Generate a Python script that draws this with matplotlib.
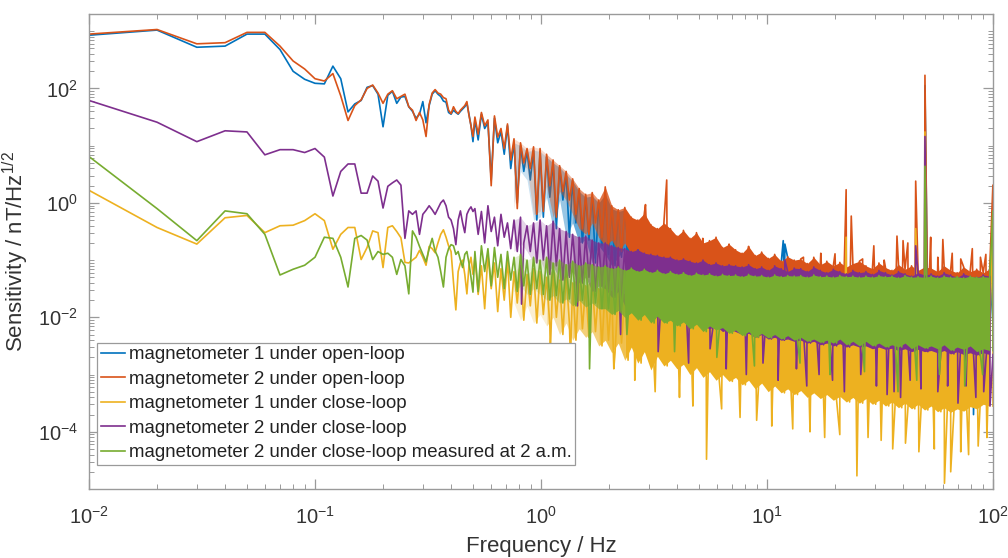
import numpy as np
import matplotlib
matplotlib.use("Agg")
import matplotlib.pyplot as plt
from matplotlib.ticker import LogLocator, FixedLocator, NullFormatter

plt.rcParams['font.family'] = ['Liberation Sans', 'DejaVu Sans']
plt.rcParams['mathtext.fontset'] = 'custom'
plt.rcParams['mathtext.rm'] = 'Liberation Sans'
plt.rcParams['mathtext.it'] = 'Liberation Sans:italic'
plt.rcParams['mathtext.bf'] = 'Liberation Sans:bold'

# ---- data (all values are log10 of sensitivity in nT/Hz^1/2) ----
labels = ["magnetometer 1 under open-loop",
          "magnetometer 2 under open-loop",
          "magnetometer 1 under close-loop",
          "magnetometer 2 under close-loop",
          "magnetometer 2 under close-loop measured at 2 a.m."]
colors = ["#0072BD", "#D95319", "#EDB120", "#7E2F8E", "#77AC30"]

# low-frequency part: 0.01 ... 0.50 Hz, 0.01 Hz resolution
f_low = np.round(np.arange(1, 51) * 0.01, 2)

blue_low = [2.93, 3.02, 2.72, 2.74, 2.95, 2.95, 2.68, 2.30, 2.16, 2.09,
            2.08, 2.39, 2.17, 1.59, 1.73, 1.79, 2.02, 2.05, 1.90, 1.33,
            1.88, 1.95, 1.74, 1.85, 1.86, 1.68, 1.60, 1.48, 1.55, 1.77,
            1.40, 1.70, 1.90, 1.96, 1.90, 1.86, 1.78, 1.76, 1.58, 1.55,
            1.62, 1.58, 1.55, 1.60, 1.64, 1.68, 1.74, 1.55, 1.35, 1.07]
orange_low = [2.95, 3.03, 2.78, 2.80, 2.98, 2.98, 2.74, 2.48, 2.34, 2.17,
              2.13, 2.26, 1.87, 1.44, 1.70, 1.80, 2.00, 2.06, 1.92, 1.74,
              1.90, 1.96, 1.82, 1.86, 1.90, 1.68, 1.62, 1.44, 1.58, 1.45,
              1.16, 1.72, 1.92, 1.98, 1.92, 1.90, 1.84, 1.82, 1.62, 1.56,
              1.68, 1.60, 1.56, 1.62, 1.66, 1.70, 1.77, 1.53, 1.35, 1.16]
yellow_low = [0.22, -0.43, -0.72, -0.26, -0.22, -0.52, -0.40, -0.39, -0.31, -0.19,
              -0.31, -0.81, -0.55, -0.43, -0.43, -0.99, -0.78, -0.49, -0.52, -1.13,
              -0.43, -0.40, -0.50, -0.61, -1.04, -1.05, -1.00, -0.95, -0.83, -0.95,
              -1.09, -0.76, -0.80, -0.87, -0.70, -0.55, -0.47, -0.60, -0.75, -0.85,
              -1.39, -1.87, -1.20, -1.05, -1.00, -1.25, -1.59, -1.10, -0.95, -1.25]
purple_low = [1.79, 1.41, 1.07, 1.26, 1.24, 0.84, 0.93, 0.93, 0.88, 0.95,
              0.80, 0.12, 0.55, 0.68, 0.68, 0.17, 0.17, 0.47, 0.38, -0.09,
              0.29, 0.35, 0.40, 0.31, -0.62, -0.14, -0.20, -0.14, -0.55, -0.20,
              -0.13, -0.05, -0.12, -0.20, -0.10, 0.00, 0.05, -0.05, -0.25, -0.30,
              -0.45, -0.73, -0.30, -0.14, -0.35, -0.52, -0.20, -0.12, -0.07, -0.15]
green_low = [0.81, -0.10, -0.66, -0.14, -0.19, -0.55, -1.26, -1.16, -1.09, -0.95,
             -0.60, -0.62, -0.95, -1.47, -0.62, -0.57, -0.65, -0.99, -0.85, -0.90,
             -0.88, -0.95, -1.25, -0.99, -1.10, -1.59, -0.49, -0.60, -0.76, -0.90,
             -1.03, -0.80, -0.62, -0.84, -0.95, -1.20, -1.47, -0.95, -0.80, -0.73,
             -0.75, -0.90, -0.85, -1.00, -1.13, -0.90, -0.85, -1.05, -1.30, -1.56]

# noisy part 0.51 ... 100 Hz: upper / lower excursion at each of 80 nodes
f_band = np.geomspace(0.51, 100, 160)
# the trace gets denser with frequency: (from Hz, to Hz, opacity of the band)
band_density = [(0.75, 1.0, 0.2), (1.0, 1.3, 0.4), (1.3, 1.7, 0.6),
                (1.7, 2.3, 0.8), (2.3, 101.0, 1.0)]

blue_hi = [1.45, 1.55, 1.40, 1.48, 1.25, 1.35, 1.05, 1.00, 0.90, 0.92,
           0.90, 0.80, 0.70, 0.62, 0.50, 0.38, 0.20, 0.10, 0.12, 0.00,
           0.15, -0.10, -0.15, -0.12, -0.28, -0.32, -0.22, -0.40, -0.48, -0.38,
           -0.50, -0.60, -0.52, -0.65, -0.55, -0.72, -0.68, -0.65, -0.80, -0.75,
           -0.85, -0.90, -0.80, -0.95, -0.88, -1.00, -0.92, -1.05, -0.96, -1.02,
           -1.00, -1.08, -0.98, -1.10, -1.05, -1.12, -1.06, -1.14, -1.08, -1.05,
           -1.12, -1.16, -1.08, -1.15, -1.20, -1.10, -1.18, -1.12, -1.20, -1.14,
           -1.16, -1.22, -1.12, -1.20, -1.24, -1.14, -1.22, -1.18, -1.24, -1.17]
blue_lo = [1.10, 1.30, 0.40, 1.05, 0.85, 0.60, 0.00, 0.55, 0.40, -0.30,
           -0.25, 0.10, -0.45, 0.05, -0.60, -0.35, -0.70, -0.65, -1.05, -0.75,
           -0.90, -1.10, -0.95, -0.80, -1.15, -0.95, -1.05, -1.25, -1.15, -1.10,
           -1.20, -1.25, -1.35, -1.30, -1.40, -1.35, -1.45, -1.50, -1.45, -1.55,
           -1.55, -1.60, -1.65, -1.60, -1.70, -1.65, -1.75, -1.70, -1.75, -1.80,
           -1.80, -1.85, -1.80, -1.90, -1.85, -1.90, -1.95, -1.90, -1.95, -1.95,
           -1.95, -2.00, -1.95, -2.05, -2.00, -2.05, -2.00, -2.05, -2.10, -2.05,
           -2.05, -2.10, -2.05, -2.15, -2.10, -2.05, -2.15, -2.10, -2.10, -2.10]
orange_hi = [1.50, 1.58, 1.45, 1.52, 1.30, 1.38, 1.12, 1.05, 0.95, 0.98,
             0.95, 0.85, 0.75, 0.65, 0.55, 0.42, 0.25, 0.15, 0.18, 0.05,
             0.28, -0.05, -0.12, -0.08, -0.25, -0.30, -0.18, -0.38, -0.45, -0.35,
             -0.45, -0.58, -0.48, -0.62, -0.52, -0.70, -0.66, -0.60, -0.78, -0.72,
             -0.82, -0.88, -0.76, -0.92, -0.86, -0.97, -0.90, -1.02, -0.94, -1.00,
             -0.98, -1.06, -0.95, -1.08, -1.02, -1.10, -1.04, -1.12, -1.06, -1.02,
             -1.10, -1.15, -1.05, -1.13, -1.18, -1.08, -1.16, -1.10, -1.18, -1.12,
             -1.14, -1.20, -1.10, -1.18, -1.22, -1.12, -1.20, -1.16, -1.22, -1.15]
orange_lo = [1.20, 1.35, 0.30, 1.15, 0.95, 0.75, -0.10, 0.70, 0.60, -0.20,
             -0.15, 0.30, -0.25, 0.20, 0.05, -0.20, -0.45, -0.55, -0.35, -0.60,
             -0.75, -0.65, -0.85, -0.70, -0.90, -0.80, -1.00, -0.90, -1.10, -1.05,
             -1.15, -1.20, -1.30, -1.25, -1.35, -1.30, -1.40, -1.45, -1.40, -1.50,
             -1.50, -1.55, -1.60, -1.55, -1.65, -1.60, -1.70, -1.65, -1.70, -1.75,
             -1.75, -1.80, -1.75, -1.85, -1.80, -1.85, -1.90, -1.85, -1.90, -1.90,
             -1.90, -1.95, -1.90, -2.00, -1.95, -2.00, -1.95, -2.00, -2.05, -2.00,
             -2.00, -2.05, -2.00, -2.10, -2.05, -2.00, -2.10, -2.05, -2.10, -2.05]
yellow_hi = [-0.95, -1.10, -0.90, -1.05, -1.15, -1.00, -1.20, -1.10, -1.25, -1.15,
             -1.20, -1.30, -1.15, -1.35, -1.25, -1.40, -1.30, -1.45, -1.35, -1.50,
             -1.45, -1.55, -1.50, -1.60, -1.52, -1.62, -1.55, -1.65, -1.58, -1.68,
             -1.60, -1.70, -1.62, -1.72, -1.65, -1.75, -1.68, -1.78, -1.70, -1.80,
             -1.72, -1.82, -1.75, -1.85, -1.78, -1.88, -1.80, -1.90, -1.82, -1.92,
             -1.85, -1.95, -1.88, -1.98, -1.90, -2.00, -1.92, -2.02, -1.95, -2.05,
             -1.98, -2.08, -2.00, -2.10, -2.02, -2.12, -2.05, -2.15, -2.08, -2.18,
             -2.10, -2.20, -2.12, -2.22, -2.15, -2.25, -2.18, -2.28, -2.20, -2.30]
yellow_lo = [-1.60, -1.85, -1.50, -1.90, -1.70, -2.00, -1.75, -2.05, -1.80, -2.10,
             -1.95, -2.15, -2.00, -2.30, -2.10, -2.40, -2.20, -2.35, -2.25, -2.50,
             -2.40, -2.62, -2.45, -2.75, -2.52, -2.80, -2.60, -2.92, -2.68, -2.85,
             -2.75, -2.90, -2.82, -3.00, -2.88, -3.05, -2.95, -3.10, -3.00, -3.12,
             -3.05, -3.18, -3.10, -3.25, -3.15, -3.30, -3.20, -3.32, -3.25, -3.35,
             -3.28, -3.40, -3.32, -3.42, -3.35, -3.45, -3.38, -3.48, -3.40, -3.50,
             -3.42, -3.52, -3.45, -3.55, -3.48, -3.58, -3.50, -3.60, -3.52, -3.62,
             -3.55, -3.65, -3.58, -3.66, -3.60, -3.64, -3.56, -3.60, -3.52, -3.55]
purple_hi = [-0.10, -0.15, -0.05, -0.25, -0.20, -0.35, -0.30, -0.25, -0.40, -0.35,
             -0.30, -0.40, -0.32, -0.45, -0.50, -0.55, -0.60, -0.58, -0.65, -0.70,
             -0.70, -0.75, -0.78, -0.80, -0.85, -0.82, -0.88, -0.90, -0.92, -0.95,
             -0.95, -1.00, -0.98, -1.02, -1.05, -1.00, -1.08, -1.05, -1.10, -1.08,
             -1.10, -1.12, -1.08, -1.15, -1.12, -1.18, -1.10, -1.15, -1.20, -1.14,
             -1.15, -1.20, -1.12, -1.18, -1.22, -1.16, -1.20, -1.24, -1.18, -1.22,
             -1.20, -1.25, -1.18, -1.22, -1.26, -1.20, -1.24, -1.28, -1.22, -1.26,
             -1.24, -1.28, -1.22, -1.26, -1.30, -1.24, -1.28, -1.30, -1.26, -1.28]
purple_lo = [-0.55, -0.70, -0.50, -0.75, -0.60, -0.80, -0.85, -0.70, -0.85, -1.05,
             -1.00, -1.25, -1.10, -1.35, -1.30, -1.20, -1.40, -1.30, -1.55, -1.45,
             -1.50, -1.65, -1.55, -1.80, -1.70, -1.75, -1.75, -1.90, -1.85, -2.00,
             -2.00, -2.10, -2.05, -2.15, -2.10, -2.15, -2.20, -2.15, -2.25, -2.20,
             -2.25, -2.30, -2.28, -2.35, -2.30, -2.38, -2.35, -2.40, -2.38, -2.42,
             -2.40, -2.45, -2.42, -2.48, -2.45, -2.50, -2.46, -2.52, -2.48, -2.52,
             -2.50, -2.55, -2.52, -2.56, -2.54, -2.58, -2.55, -2.60, -2.56, -2.60,
             -2.58, -2.62, -2.58, -2.64, -2.60, -2.65, -2.62, -2.66, -2.62, -2.65]
green_hi = [-0.85, -0.75, -0.80, -0.78, -0.90, -0.85, -0.95, -0.90, -1.00, -0.95,
            -1.00, -0.95, -1.05, -1.00, -1.08, -1.02, -1.10, -1.05, -1.08, -1.12,
            -1.10, -1.15, -1.12, -1.18, -1.14, -1.20, -1.16, -1.22, -1.18, -1.24,
            -1.20, -1.25, -1.22, -1.27, -1.23, -1.26, -1.24, -1.28, -1.25, -1.27,
            -1.26, -1.29, -1.25, -1.28, -1.27, -1.30, -1.26, -1.29, -1.27, -1.28,
            -1.27, -1.30, -1.26, -1.29, -1.28, -1.30, -1.27, -1.29, -1.28, -1.30,
            -1.28, -1.30, -1.27, -1.29, -1.28, -1.31, -1.27, -1.30, -1.29, -1.30,
            -1.28, -1.31, -1.28, -1.30, -1.29, -1.31, -1.28, -1.30, -1.29, -1.30]
green_lo = [-1.55, -1.20, -1.45, -1.30, -1.50, -1.35, -1.55, -1.45, -1.60, -1.50,
            -1.60, -1.70, -1.62, -1.75, -1.68, -1.80, -1.70, -1.82, -1.75, -1.85,
            -1.85, -1.95, -1.88, -2.00, -1.92, -2.05, -1.95, -2.10, -1.98, -2.10,
            -2.05, -2.15, -2.08, -2.20, -2.12, -2.25, -2.15, -2.22, -2.18, -2.28,
            -2.22, -2.32, -2.25, -2.35, -2.28, -2.36, -2.30, -2.38, -2.32, -2.40,
            -2.35, -2.42, -2.38, -2.44, -2.40, -2.45, -2.38, -2.48, -2.42, -2.50,
            -2.42, -2.50, -2.45, -2.52, -2.48, -2.52, -2.45, -2.55, -2.48, -2.54,
            -2.50, -2.55, -2.48, -2.58, -2.52, -2.56, -2.50, -2.60, -2.55, -2.58]

# narrow excursions outside the band: (frequency in Hz, log10 value)
blue_spikes = [(3.1, -1.45), (4.3, -1.50), (11.8, -0.66), (12.0, -0.72),
               (50.0, 2.05), (64.0, -3.55), (82.0, -3.70)]
orange_spikes = [(2.9, -0.03), (3.6, 0.40), (5.2, -0.62), (6.8, -0.78),
                 (8.3, -0.85), (14.5, -0.95), (17.3, -0.88), (20.0, -0.89),
                 (22.4, 0.23), (23.6, -0.23), (26.5, -0.98), (29.7, -0.75),
                 (33.0, -1.00), (37.6, -0.58), (40.0, -0.66), (42.0, -0.70),
                 (45.5, 0.38), (50.0, 2.23), (53.0, -0.60), (57.0, -0.95),
                 (60.0, -0.64), (66.0, -0.88), (72.0, -0.98), (81.0, -0.80),
                 (88.0, -0.95), (93.0, -0.90), (99.9, 0.31)]
yellow_spikes = [(1.1, -2.60), (1.35, -2.75), (2.1, -2.90), (2.6, -3.10),
                 (3.2, -3.30), (4.1, -3.40), (4.7, -3.55), (5.4, -4.48),
                 (6.3, -3.60), (7.6, -3.75), (9.0, -3.80), (10.5, -3.90),
                 (13.0, -3.95), (15.5, -4.00), (18.0, -4.10), (21.0, -4.05),
                 (22.4, -0.60), (25.0, -4.77), (28.0, -4.10), (32.0, -4.15),
                 (36.0, -4.30), (41.0, -4.20), (45.5, -0.45), (47.0, -4.35),
                 (50.0, 1.24), (55.0, -4.30), (61.0, -4.90), (65.0, -4.70),
                 (72.0, -4.35), (78.0, -4.40), (86.0, -4.25), (94.0, -4.10),
                 (99.9, -0.20)]
purple_spikes = [(0.82, -1.77), (1.45, -1.80), (2.25, -2.30), (3.3, -2.60),
                 (4.5, -2.80), (5.6, -2.55), (6.6, -2.90), (8.1, -3.00),
                 (9.6, -2.80), (11.2, -3.10), (12.0, -1.00), (13.5, -2.90),
                 (15.0, -3.20), (17.0, -3.00), (19.5, -3.10), (22.0, -3.30),
                 (26.0, -3.00), (30.5, -3.20), (34.0, -3.35), (36.5, -3.30),
                 (39.0, -3.40), (43.0, -3.10), (45.5, -0.75), (48.0, -3.25),
                 (50.0, 1.16), (57.0, -3.30), (63.0, -3.20), (70.0, -3.50),
                 (76.0, -3.20), (84.0, -3.40), (91.0, -3.30), (97.0, -3.55)]
green_spikes = [(1.64, -2.90), (2.4, -2.30), (3.9, -2.60), (6.0, -2.70),
                (8.8, -2.85), (14.0, -2.80), (19.0, -3.00), (27.0, -2.95),
                (38.0, -3.30), (46.0, -3.10), (50.0, 0.64), (58.0, -3.00),
                (75.0, -3.20), (90.0, -3.00), (99.9, -0.14)]


def trace(low, hi, lo, spikes):
    band = np.empty(2 * len(hi))
    band[0::2] = hi
    band[1::2] = lo
    sf = [s[0] for s in spikes]
    sv = [s[1] for s in spikes]
    f = np.concatenate([f_low, f_band, sf])
    v = np.concatenate([low, band, sv])
    order = np.argsort(f, kind="stable")
    return f[order], 10.0 ** v[order]


series = [
    (blue_low, blue_hi, blue_lo, blue_spikes),
    (orange_low, orange_hi, orange_lo, orange_spikes),
    (yellow_low, yellow_hi, yellow_lo, yellow_spikes),
    (purple_low, purple_hi, purple_lo, purple_spikes),
    (green_low, green_hi, green_lo, green_spikes),
]

fig = plt.figure(figsize=(10.08, 5.58), dpi=100)
ax = fig.add_axes([0.0883, 0.1237, 0.8968, 0.8512])

f_nodes = f_band[0::2]
for k, ((low, hi, lo, spikes), c, lab) in enumerate(zip(series, colors, labels)):
    hi_v = 10.0 ** np.array(hi)
    lo_v = 10.0 ** np.array(lo)
    for fa, fb, alpha in band_density:
        i0 = np.searchsorted(f_nodes, fa)
        i1 = np.searchsorted(f_nodes, fb)
        sl = slice(i0, min(i1 + 1, len(f_nodes)))
        ax.fill_between(f_nodes[sl], lo_v[sl], hi_v[sl], color=c, alpha=alpha,
                        lw=0, zorder=2 + 2 * k)
    f, s = trace(low, hi, lo, spikes)
    ax.plot(f, s, color=c, lw=1.2, label=lab, zorder=3 + 2 * k)

ax.set_xscale("log")
ax.set_yscale("log")
ax.set_xlim(0.01, 100)
ax.set_ylim(1e-5, 2e3)

ax.yaxis.set_major_locator(FixedLocator([1e-4, 1e-2, 1e0, 1e2]))
ax.yaxis.set_minor_locator(LogLocator(base=10, subs=np.arange(1, 10), numticks=40))
ax.yaxis.set_minor_formatter(NullFormatter())
ax.xaxis.set_minor_locator(LogLocator(base=10, subs=np.arange(2, 10), numticks=40))
ax.xaxis.set_minor_formatter(NullFormatter())

axcol = "#9a9a9a"
for sp in ax.spines.values():
    sp.set_color(axcol)
    sp.set_linewidth(1.0)
    sp.set_zorder(20)
ax.tick_params(which="both", direction="in", top=True, right=True,
               color=axcol, labelcolor="#333333", labelsize=14.5)
ax.tick_params(axis="x", which="major", length=7, width=0.9, pad=12)
ax.tick_params(axis="y", which="major", length=7, width=0.9, pad=8)
ax.tick_params(which="minor", length=3.5, width=0.7)

ax.set_xlabel("Frequency / Hz", fontsize=16, color="#333333", labelpad=6)
ax.set_ylabel("Sensitivity / nT/Hz$^{1/2}$", fontsize=16, color="#333333")
ax.yaxis.set_label_coords(-0.064, 0.5)

leg = ax.legend(loc="lower left", bbox_to_anchor=(0.0088, 0.0505),
                borderaxespad=0, fontsize=13.4, fancybox=False, framealpha=1,
                edgecolor=axcol, handlelength=1.3, handletextpad=0.2,
                borderpad=0.2, labelspacing=0.4)
leg.set_zorder(30)
leg.get_frame().set_linewidth(0.9)
for t in leg.get_texts():
    t.set_color("#222222")

fig.savefig("out.png", dpi=100)
